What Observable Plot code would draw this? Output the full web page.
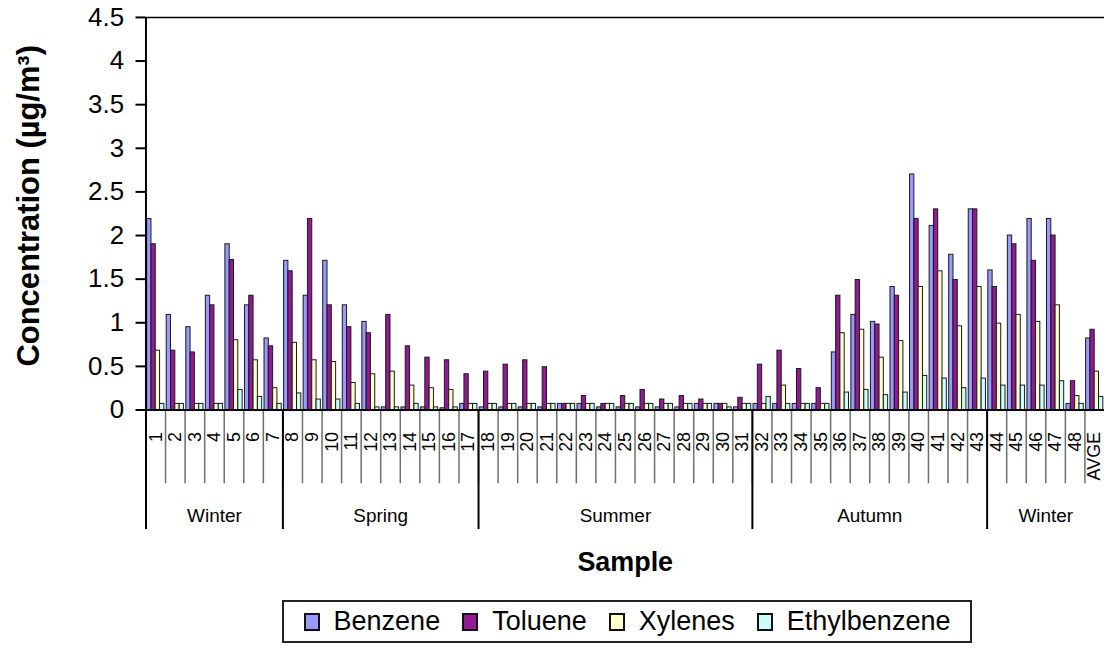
<!DOCTYPE html>
<html>
<head>
<meta charset="utf-8">
<script src="https://cdn.jsdelivr.net/npm/d3@7"></script>
<script src="https://cdn.jsdelivr.net/npm/@observablehq/plot@0.6"></script>
<style>
html, body { margin: 0; padding: 0; background: #fff; overflow: hidden; }
#wrap { width: 1104px; height: 648px; overflow: hidden; position: relative; }
#legend { position: absolute; left: 282px; top: 600px; width: 686px; height: 39px; border: 2px solid #222;
  display: flex; align-items: center; justify-content: center;
  font-family: "Liberation Sans", Arial, sans-serif; font-size: 27px; color: #000; }
.item { display: flex; align-items: center; margin: 0 11px; }
.sw { width: 12px; height: 14px; border: 2px solid #111; margin-right: 14px; }
</style>
</head>
<body>
<div id="wrap"><div id="chart"></div><div id="legend"></div></div>
<script>
const samples = ["1","2","3","4","5","6","7","8","9","10","11","12","13","14","15","16","17","18","19","20",
  "21","22","23","24","25","26","27","28","29","30","31","32","33","34","35","36","37","38","39","40",
  "41","42","43","44","45","46","47","48","AVGE"];
const seriesNames = ["Benzene", "Toluene", "Xylenes", "Ethylbenzene"];
const seriesColors = ["#9999ff", "#931a92", "#ffffcc", "#ccfdfa"];

const benzene = [2.19,1.09,0.95,1.31,1.90,1.20,0.82,1.71,1.31,1.71,1.20,1.01,0.03,0.03,0.03,0.02,0.07,0.03,0.03,0.03,
  0.03,0.07,0.07,0.03,0.03,0.03,0.03,0.03,0.07,0.07,0.03,0.07,0.07,0.07,0.07,0.66,1.09,1.01,1.41,2.70,
  2.11,1.78,2.30,1.60,2.00,2.19,2.19,0.07,0.82];
const toluene = [1.90,0.68,0.66,1.20,1.72,1.31,0.73,1.59,2.19,1.20,0.95,0.88,1.09,0.73,0.60,0.57,0.41,0.44,0.52,0.57,
  0.49,0.07,0.16,0.07,0.16,0.23,0.12,0.16,0.12,0.07,0.14,0.52,0.68,0.47,0.25,1.31,1.49,0.98,1.31,2.19,
  2.30,1.49,2.30,1.41,1.90,1.71,2.00,0.33,0.92];
const xylenes = [0.68,0.07,0.07,0.07,0.80,0.57,0.25,0.77,0.57,0.55,0.31,0.41,0.44,0.28,0.25,0.23,0.07,0.07,0.07,0.07,
  0.07,0.07,0.07,0.07,0.07,0.07,0.07,0.07,0.07,0.07,0.07,0.07,0.28,0.07,0.07,0.88,0.92,0.60,0.79,1.41,
  1.59,0.96,1.41,0.99,1.09,1.01,1.20,0.16,0.44];
const ethylbenzene = [0.07,0.07,0.07,0.07,0.23,0.15,0.07,0.19,0.12,0.12,0.07,0.03,0.03,0.07,0.03,0.03,0.07,0.07,0.07,0.07,
  0.07,0.07,0.07,0.07,0.07,0.07,0.07,0.07,0.07,0.03,0.07,0.15,0.07,0.07,0.07,0.20,0.23,0.17,0.20,0.39,
  0.36,0.25,0.36,0.28,0.28,0.28,0.33,0.07,0.15];

const seasonNames = ["Winter", "Spring", "Summer", "Autumn", "Winter"];
const seasonFirstSample = ["1", "8", "18", "32", "44"];
const yTicks = [0, 0.5, 1, 1.5, 2, 2.5, 3, 3.5, 4, 4.5];

const seriesValues = [benzene, toluene, xylenes, ethylbenzene];
const data = [];
samples.forEach((s, i) => {
  seriesNames.forEach((name, k) => {
    data.push({sample: s, i, k, series: name, value: seriesValues[k][i]});
  });
});
const seasonStartIdx = seasonFirstSample.map(s => samples.indexOf(s));
const seasonData = seasonNames.map((name, j) => ({
  name,
  start: seasonStartIdx[j],
  end: j + 1 < seasonStartIdx.length ? seasonStartIdx[j + 1] : samples.length
}));

const groupPad = 0.06, barW = 0.22;
const font = '"Liberation Sans", Arial, sans-serif';

const chart = Plot.plot({
  width: 1108, height: 590,
  marginLeft: 146, marginRight: 0, marginTop: 17, marginBottom: 179,
  style: {fontFamily: font, background: "white", color: "black"},
  x: {type: "linear", domain: [0, samples.length], axis: null},
  y: {domain: [0, 4.5], axis: null},
  color: {domain: seriesNames, range: seriesColors},
  marks: [
    Plot.rect(data, {
      x1: d => d.i + groupPad + barW * d.k,
      x2: d => d.i + groupPad + barW * (d.k + 1),
      y1: 0, y2: "value",
      fill: "series", stroke: "#1a1a1a", strokeWidth: 1
    }),
    Plot.axisX({ticks: d3.range(1, samples.length), tickSize: 74, tickFormat: () => "", stroke: "#6e6e6e", strokeWidth: 1.5, label: null}),
    Plot.axisX({ticks: seasonStartIdx, tickSize: 120, tickFormat: () => "", stroke: "#000", strokeWidth: 2, label: null}),
    Plot.axisX({ticks: d3.range(samples.length).map(i => i + 0.5), tickFormat: v => samples[Math.floor(v)],
      tickSize: 0, tickPadding: 22, tickRotate: -90, fontSize: 18, label: null}),
    Plot.axisY({ticks: yTicks, tickFormat: d => String(d), tickSize: 10, tickPadding: 12, fontSize: 26, strokeWidth: 2, label: null}),
    Plot.ruleY([0], {strokeWidth: 2}),
    Plot.ruleY([4.5], {strokeWidth: 1.5}),
    Plot.ruleX([0], {strokeWidth: 2}),
    Plot.text(seasonData, {x: d => (d.start + d.end) / 2, text: "name", frameAnchor: "bottom", lineAnchor: "middle", dy: 106, fontSize: 19}),
    Plot.text(["Sample"], {text: d => d, frameAnchor: "bottom", lineAnchor: "middle", dy: 153, fontSize: 27, fontWeight: "bold"}),
    Plot.text(["Concentration (µg/m³)"], {text: d => d, frameAnchor: "left", textAnchor: "middle", lineAnchor: "middle", dx: -117, dy: -8, rotate: -90, fontSize: 31, fontWeight: "bold"})
  ]
});
document.getElementById("chart").appendChild(chart);

const legend = document.getElementById("legend");
seriesNames.forEach((name, k) => {
  const item = document.createElement("div");
  item.className = "item";
  const sw = document.createElement("span");
  sw.className = "sw";
  sw.style.background = seriesColors[k];
  const label = document.createElement("span");
  label.textContent = name;
  item.appendChild(sw);
  item.appendChild(label);
  legend.appendChild(item);
});
</script>
</body>
</html>
